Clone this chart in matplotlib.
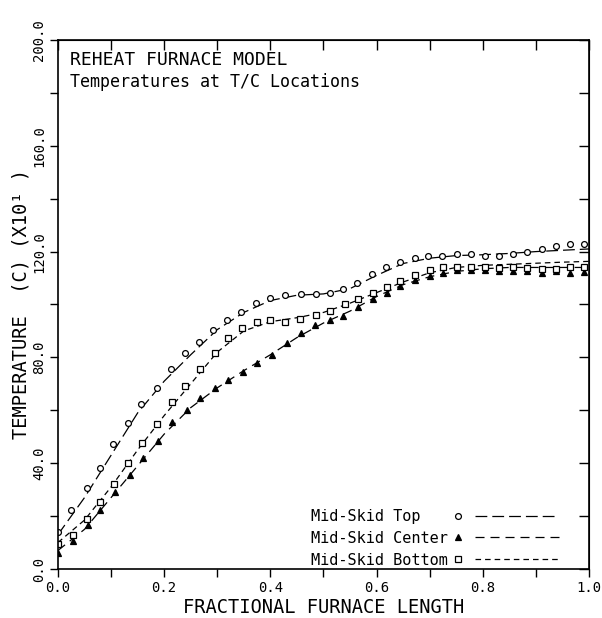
import numpy as np
import matplotlib
matplotlib.use("Agg")
import matplotlib.pyplot as plt
from matplotlib.lines import Line2D
from matplotlib.legend_handler import HandlerBase

plt.rcParams['font.family'] = ['DejaVu Sans Mono']
plt.rcParams['lines.scale_dashes'] = False

# Mid-Skid Top (circles)
top_x = [0.0, 0.024, 0.054, 0.079, 0.104, 0.132, 0.157, 0.186, 0.213, 0.239, 0.266, 0.292, 0.318,
         0.344, 0.372, 0.399, 0.427, 0.458, 0.486, 0.512, 0.537, 0.563, 0.591, 0.618, 0.644, 0.672,
         0.697, 0.724, 0.751, 0.777, 0.804, 0.831, 0.857, 0.883, 0.911, 0.938, 0.964, 0.99]
top_y = [14.1, 22.3, 30.7, 38.3, 47.2, 55.3, 62.5, 68.5, 75.5, 81.5, 86.0, 90.5, 94.3,
         97.3, 100.5, 102.5, 103.4, 104.0, 104.0, 104.2, 105.7, 108.3, 111.4, 114.0, 116.0, 117.6,
         118.3, 118.5, 119.0, 119.0, 118.5, 118.3, 119.0, 119.7, 120.8, 122.0, 122.7, 123.0]

# Mid-Skid Center (triangles)
center_x = [0.0, 0.029, 0.057, 0.079, 0.107, 0.136, 0.16, 0.188, 0.215, 0.243, 0.267, 0.296, 0.32,
            0.348, 0.375, 0.403, 0.431, 0.458, 0.484, 0.512, 0.537, 0.565, 0.593, 0.619, 0.644,
            0.672, 0.70, 0.725, 0.751, 0.777, 0.804, 0.831, 0.857, 0.883, 0.911, 0.938, 0.964, 0.99]
center_y = [6.2, 10.4, 16.7, 22.3, 29.0, 35.6, 42.0, 48.5, 55.5, 60.2, 64.8, 68.6, 71.6,
            74.6, 78.0, 81.0, 85.6, 89.2, 92.4, 94.3, 95.5, 99.2, 102.0, 104.5, 107.0,
            109.2, 110.6, 112.0, 113.0, 113.0, 113.0, 112.7, 112.5, 112.5, 112.0, 112.5, 112.0, 112.3]

# Mid-Skid Bottom (squares)
bottom_x = [0.0, 0.029, 0.055, 0.08, 0.105, 0.131, 0.158, 0.186, 0.215, 0.239, 0.267, 0.296, 0.32,
            0.346, 0.375, 0.4, 0.427, 0.455, 0.485, 0.512, 0.54, 0.565, 0.593, 0.619, 0.644, 0.672,
            0.70, 0.725, 0.751, 0.777, 0.804, 0.831, 0.857, 0.883, 0.911, 0.938, 0.964, 0.99]
bottom_y = [9.5, 13.0, 19.0, 25.5, 32.0, 40.0, 47.5, 55.0, 63.0, 69.0, 75.5, 81.5, 87.5,
            91.0, 93.2, 94.0, 93.5, 94.5, 96.0, 97.5, 100.0, 102.0, 104.5, 106.5, 109.0, 111.0,
            113.0, 114.0, 114.0, 114.0, 114.0, 113.8, 114.0, 113.8, 113.5, 113.5, 114.0, 114.0]

# model curves (dashed lines)
line_x = [0.0, 0.05, 0.1, 0.15, 0.2, 0.25, 0.3, 0.35, 0.4, 0.45, 0.5,
          0.55, 0.6, 0.65, 0.7, 0.75, 0.8, 0.85, 0.9, 0.95, 1.0]
top_line = [13, 27, 43, 59, 71, 81, 90.5, 97, 101.5, 103.5, 104,
            106, 111, 115.5, 117.5, 118.5, 118.8, 119.3, 120, 120.5, 121]
center_line = [7, 15, 27, 39, 51, 61, 68.5, 75, 81, 87.5, 93,
               97.5, 103, 107.5, 110.5, 112.5, 113.5, 114, 114, 114, 114]
bottom_line = [10, 18.5, 31, 45, 58, 70, 82, 90, 93.5, 95, 97,
               100.5, 104.5, 108.5, 112, 114, 114.8, 115.2, 115.6, 116, 116.3]

labels = ["Mid-Skid Top   ", "Mid-Skid Center", "Mid-Skid Bottom"]
xtick_labels = ["0.0", "0.2", "0.4", "0.6", "0.8", "1.0"]
ytick_labels = ["0.0", "40.0", "80.0", "120.0", "160.0", "200.0"]


class MarkerThenLine(HandlerBase):
    def create_artists(self, legend, orig_handle, xdescent, ydescent, width, height, fontsize, trans):
        mk, ln = orig_handle
        y = height / 2 - ydescent
        m = Line2D([-xdescent + 0.05 * width], [y])
        m.update_from(mk)
        m.set_linestyle('none')
        l = Line2D([-xdescent + 0.21 * width, -xdescent + width], [y, y])
        l.update_from(ln)
        l.set_marker('')
        for a in (m, l):
            a.set_transform(trans)
        return [m, l]


fig = plt.figure(figsize=(6.02, 6.18), dpi=100)
ax = fig.add_axes([0.0963, 0.0793, 0.8821, 0.856])

series = [
    (top_x, top_y, top_line, 'o', 'white', (8.5, 3.6)),
    (center_x, center_y, center_line, '^', 'black', (6.5, 4.3)),
    (bottom_x, bottom_y, bottom_line, 's', 'white', (4.0, 2.9)),
]
handles = []
for xs, ys, ls, mk, fc, dash in series:
    ln, = ax.plot(line_x, ls, color='black', lw=0.9, dashes=dash)
    mp, = ax.plot(xs, ys, linestyle='none', marker=mk, ms=4.2, mfc=fc, mec='black', mew=0.9)
    handles.append((mp, ln))

ax.set_xlim(0, 1)
ax.set_ylim(0, 200)
ax.set_xticks(np.arange(0, 1.01, 0.2))
ax.set_xticklabels(xtick_labels, fontsize=10)
ax.set_xticks(np.arange(0.1, 1.0, 0.2), minor=True)
ax.set_yticks(np.arange(0, 201, 40))
ax.set_yticklabels(ytick_labels, fontsize=10, rotation=90, va='center')
ax.set_yticks(np.arange(20, 200, 40), minor=True)
ax.tick_params(which='both', direction='out', length=6, width=1, pad=2.5)

top = ax.secondary_xaxis('top')
top.set_xticks(np.arange(0, 1.01, 0.1))
top.tick_params(direction='in', length=7, width=1, labeltop=False)
right = ax.secondary_yaxis('right')
right.set_yticks(np.arange(0, 201, 20))
right.tick_params(direction='in', length=7, width=1, labelright=False)

for sp in ax.spines.values():
    sp.set_linewidth(1.2)

ax.set_xlabel("FRACTIONAL FURNACE LENGTH", fontsize=13.5)
ax.xaxis.set_label_coords(0.5, -0.054)
ax.set_ylabel("TEMPERATURE  (C) (X10¹ )", fontsize=13.5)
ax.yaxis.set_label_coords(-0.052, 0.5)

ax.text(0.023, 0.962, "REHEAT FURNACE MODEL", transform=ax.transAxes, fontsize=13, va='center')
ax.text(0.023, 0.920, "Temperatures at T/C Locations", transform=ax.transAxes, fontsize=12, va='center')

ax.legend(handles, labels, handler_map={tuple: MarkerThenLine()}, loc='lower left',
          bbox_to_anchor=(0.462, -0.012), frameon=False, markerfirst=False, fontsize=11,
          handlelength=6.9, handletextpad=0.35, borderpad=0, labelspacing=0.45)

fig.savefig("out.png", dpi=100)
